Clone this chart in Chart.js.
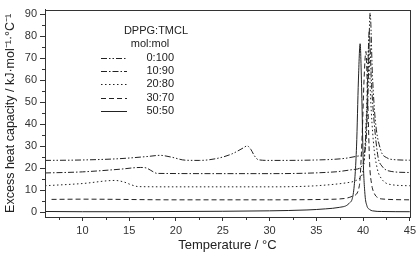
<!DOCTYPE html>
<html>
<head>
<meta charset="utf-8">
<script src="https://cdn.jsdelivr.net/npm/chart.js@4"></script>
<style>
html,body{margin:0;padding:0;background:#fff;}
#wrap{width:419px;height:253px;position:relative;}
</style>
</head>
<body>
<div id="wrap"><canvas id="c" width="419" height="253"></canvas></div>
<script>
// ---- data ----
const seriesLabels = ['0:100', '10:90', '20:80', '30:70', '50:50'];
const legendTitle = ['DPPG:TMCL', 'mol:mol'];
const xTicks = [10, 15, 20, 25, 30, 35, 40, 45];
const yTicks = [0, 10, 20, 30, 40, 50, 60, 70, 80, 90];

const t0_100  = [6, 10, 14, 17, 18.3, 19.5, 21, 22.5, 24.5, 26, 27.2, 27.6, 28.0, 28.4, 28.8, 30, 35, 38, 39.5, 40.2, 40.5, 40.75, 41.0, 41.3, 41.9, 42.5, 43.5, 45];
const cp0_100 = [23.5, 23.7, 24.3, 25.3, 25.8, 25.0, 23.6, 23.5, 24.5, 26.5, 29.2, 30.1, 28.5, 25.5, 23.8, 23.5, 23.7, 24.4, 25.5, 28, 50, 90.5, 62, 42, 28, 24.8, 23.8, 23.6];

const t10_90  = [6, 10, 14, 16.2, 16.8, 17.3, 18, 25, 30, 37, 39.2, 40.0, 40.4, 40.65, 40.9, 41.2, 41.6, 42, 43, 45];
const cp10_90 = [17.8, 18.3, 19.5, 20.3, 20.1, 19.0, 17.6, 17.5, 17.5, 18.3, 19.5, 22, 45, 82, 58, 40, 25, 21, 18.5, 18];

const t20_80  = [6, 10, 13.5, 14.5, 15.3, 16, 20, 30, 35, 38.5, 39.5, 40.1, 40.4, 40.6, 40.8, 41.1, 41.5, 42, 43, 45];
const cp20_80 = [12, 13, 14.4, 13.6, 12.3, 11.6, 11.5, 11.5, 12, 13.5, 15, 22, 50, 75, 52, 32, 20, 15, 12.5, 12];

const t30_70  = [6.7, 10, 20, 30, 36, 38, 39, 39.6, 39.9, 40.1, 40.3, 40.5, 40.7, 40.9, 41.2, 41.6, 42, 45];
const cp30_70 = [5.8, 5.9, 5.6, 5.6, 5.8, 6.2, 7.5, 12, 35, 60, 73, 50, 22, 13, 8.5, 6.5, 6, 5.6];

const t50_50  = [6, 10, 15, 20, 25, 30, 34, 36, 37.5, 38.5, 39, 39.3, 39.5, 39.68, 39.85, 40.0, 40.2, 40.4, 40.7, 41, 42, 45];
const cp50_50 = [0.3, 0.2, 0.2, 0.3, 0.4, 0.6, 1.0, 1.5, 2.2, 4, 10, 30, 60, 76.5, 55, 25, 8, 3, 1.2, 0.6, 0.3, 0.2];

const seriesX = [t0_100, t10_90, t20_80, t30_70, t50_50];
const seriesY = [cp0_100, cp10_90, cp20_80, cp30_70, cp50_50];
const seriesDash = [[6,2,1.5,2,1.5,2], [6,2,1.5,2], [1.5,2.5], [5,3], []];

const FONT = "'Liberation Sans', Arial, sans-serif";
const INK = '#222';

const datasets = seriesLabels.map((lab, i) => ({
  label: lab,
  data: seriesX[i].map((x, j) => ({x: x, y: seriesY[i][j]})),
  borderColor: INK,
  borderWidth: 1,
  borderDash: seriesDash[i],
  pointRadius: 0,
  fill: false,
  cubicInterpolationMode: 'monotone'
}));

const framePlugin = {
  id: 'frame',
  afterDraw(chart) {
    const {ctx, chartArea: a, scales} = chart;
    ctx.save();
    ctx.strokeStyle = '#333';
    ctx.lineWidth = 1;
    ctx.strokeRect(Math.round(a.left) + 0.5, Math.round(a.top) + 0.5, Math.round(a.right - a.left), Math.round(a.bottom - a.top));
    // minor ticks
    ctx.beginPath();
    for (let v = 7.5; v < 45; v += 5) {
      const px = Math.round(scales.x.getPixelForValue(v)) + 0.5;
      ctx.moveTo(px, a.bottom); ctx.lineTo(px, a.bottom + 3);
    }
    for (let v = 5; v < 92; v += 10) {
      const py = Math.round(scales.y.getPixelForValue(v)) + 0.5;
      ctx.moveTo(a.left, py); ctx.lineTo(a.left - 3, py);
    }
    ctx.stroke();
    // legend
    ctx.fillStyle = INK;
    ctx.font = '11px ' + FONT;
    ctx.textBaseline = 'middle';
    ctx.textAlign = 'center';
    ctx.fillText(legendTitle[0], 156, 31);
    ctx.fillText(legendTitle[1], 150, 44);
    ctx.textAlign = 'right';
    const rows = [58, 71, 84, 97.5, 111];
    chart.data.datasets.forEach((ds, i) => {
      const y = Math.round(rows[i]) + 0.5;
      ctx.beginPath();
      ctx.setLineDash(ds.borderDash);
      ctx.strokeStyle = INK;
      ctx.lineWidth = 1;
      ctx.moveTo(101, y); ctx.lineTo(127, y);
      ctx.stroke();
      ctx.setLineDash([]);
      ctx.fillText(ds.label, 174, rows[i]);
    });
    ctx.restore();
  }
};

new Chart(document.getElementById('c'), {
  type: 'line',
  data: {datasets},
  options: {
    responsive: false,
    animation: false,
    devicePixelRatio: 1,
    layout: {padding: {top: 2, right: 7, left: 0, bottom: 0}},
    plugins: {legend: {display: false}, tooltip: {enabled: false}},
    scales: {
      x: {
        type: 'linear', min: 6, max: 45,
        afterBuildTicks(s) { s.ticks = xTicks.map(v => ({value: v})); },
        afterFit(s) { s.height = 36; },
        grid: {drawOnChartArea: false, tickLength: 4, color: '#333', tickColor: '#333'},
        border: {color: '#333'},
        ticks: {color: '#333', font: {size: 11, family: FONT}, padding: 3, maxRotation: 0, autoSkip: false},
        title: {display: true, text: 'Temperature / °C', color: INK, font: {size: 13, family: FONT}, padding: {top: 4, bottom: 0}}
      },
      y: {
        type: 'linear', min: -2.2, max: 92,
        afterBuildTicks(s) { s.ticks = yTicks.map(v => ({value: v})); },
        afterFit(s) { s.width = 45; },
        grid: {drawOnChartArea: false, tickLength: 5, color: '#333', tickColor: '#333'},
        border: {color: '#333'},
        ticks: {color: '#333', font: {size: 11, family: FONT}, padding: 3, autoSkip: false},
        title: {display: true, text: 'Excess heat capacity / kJ·mol⁻¹·°C⁻¹', color: INK, font: {size: 12.5, family: FONT}, padding: {top: 3, bottom: 0}}
      }
    }
  },
  plugins: [framePlugin]
});
</script>
</body>
</html>
